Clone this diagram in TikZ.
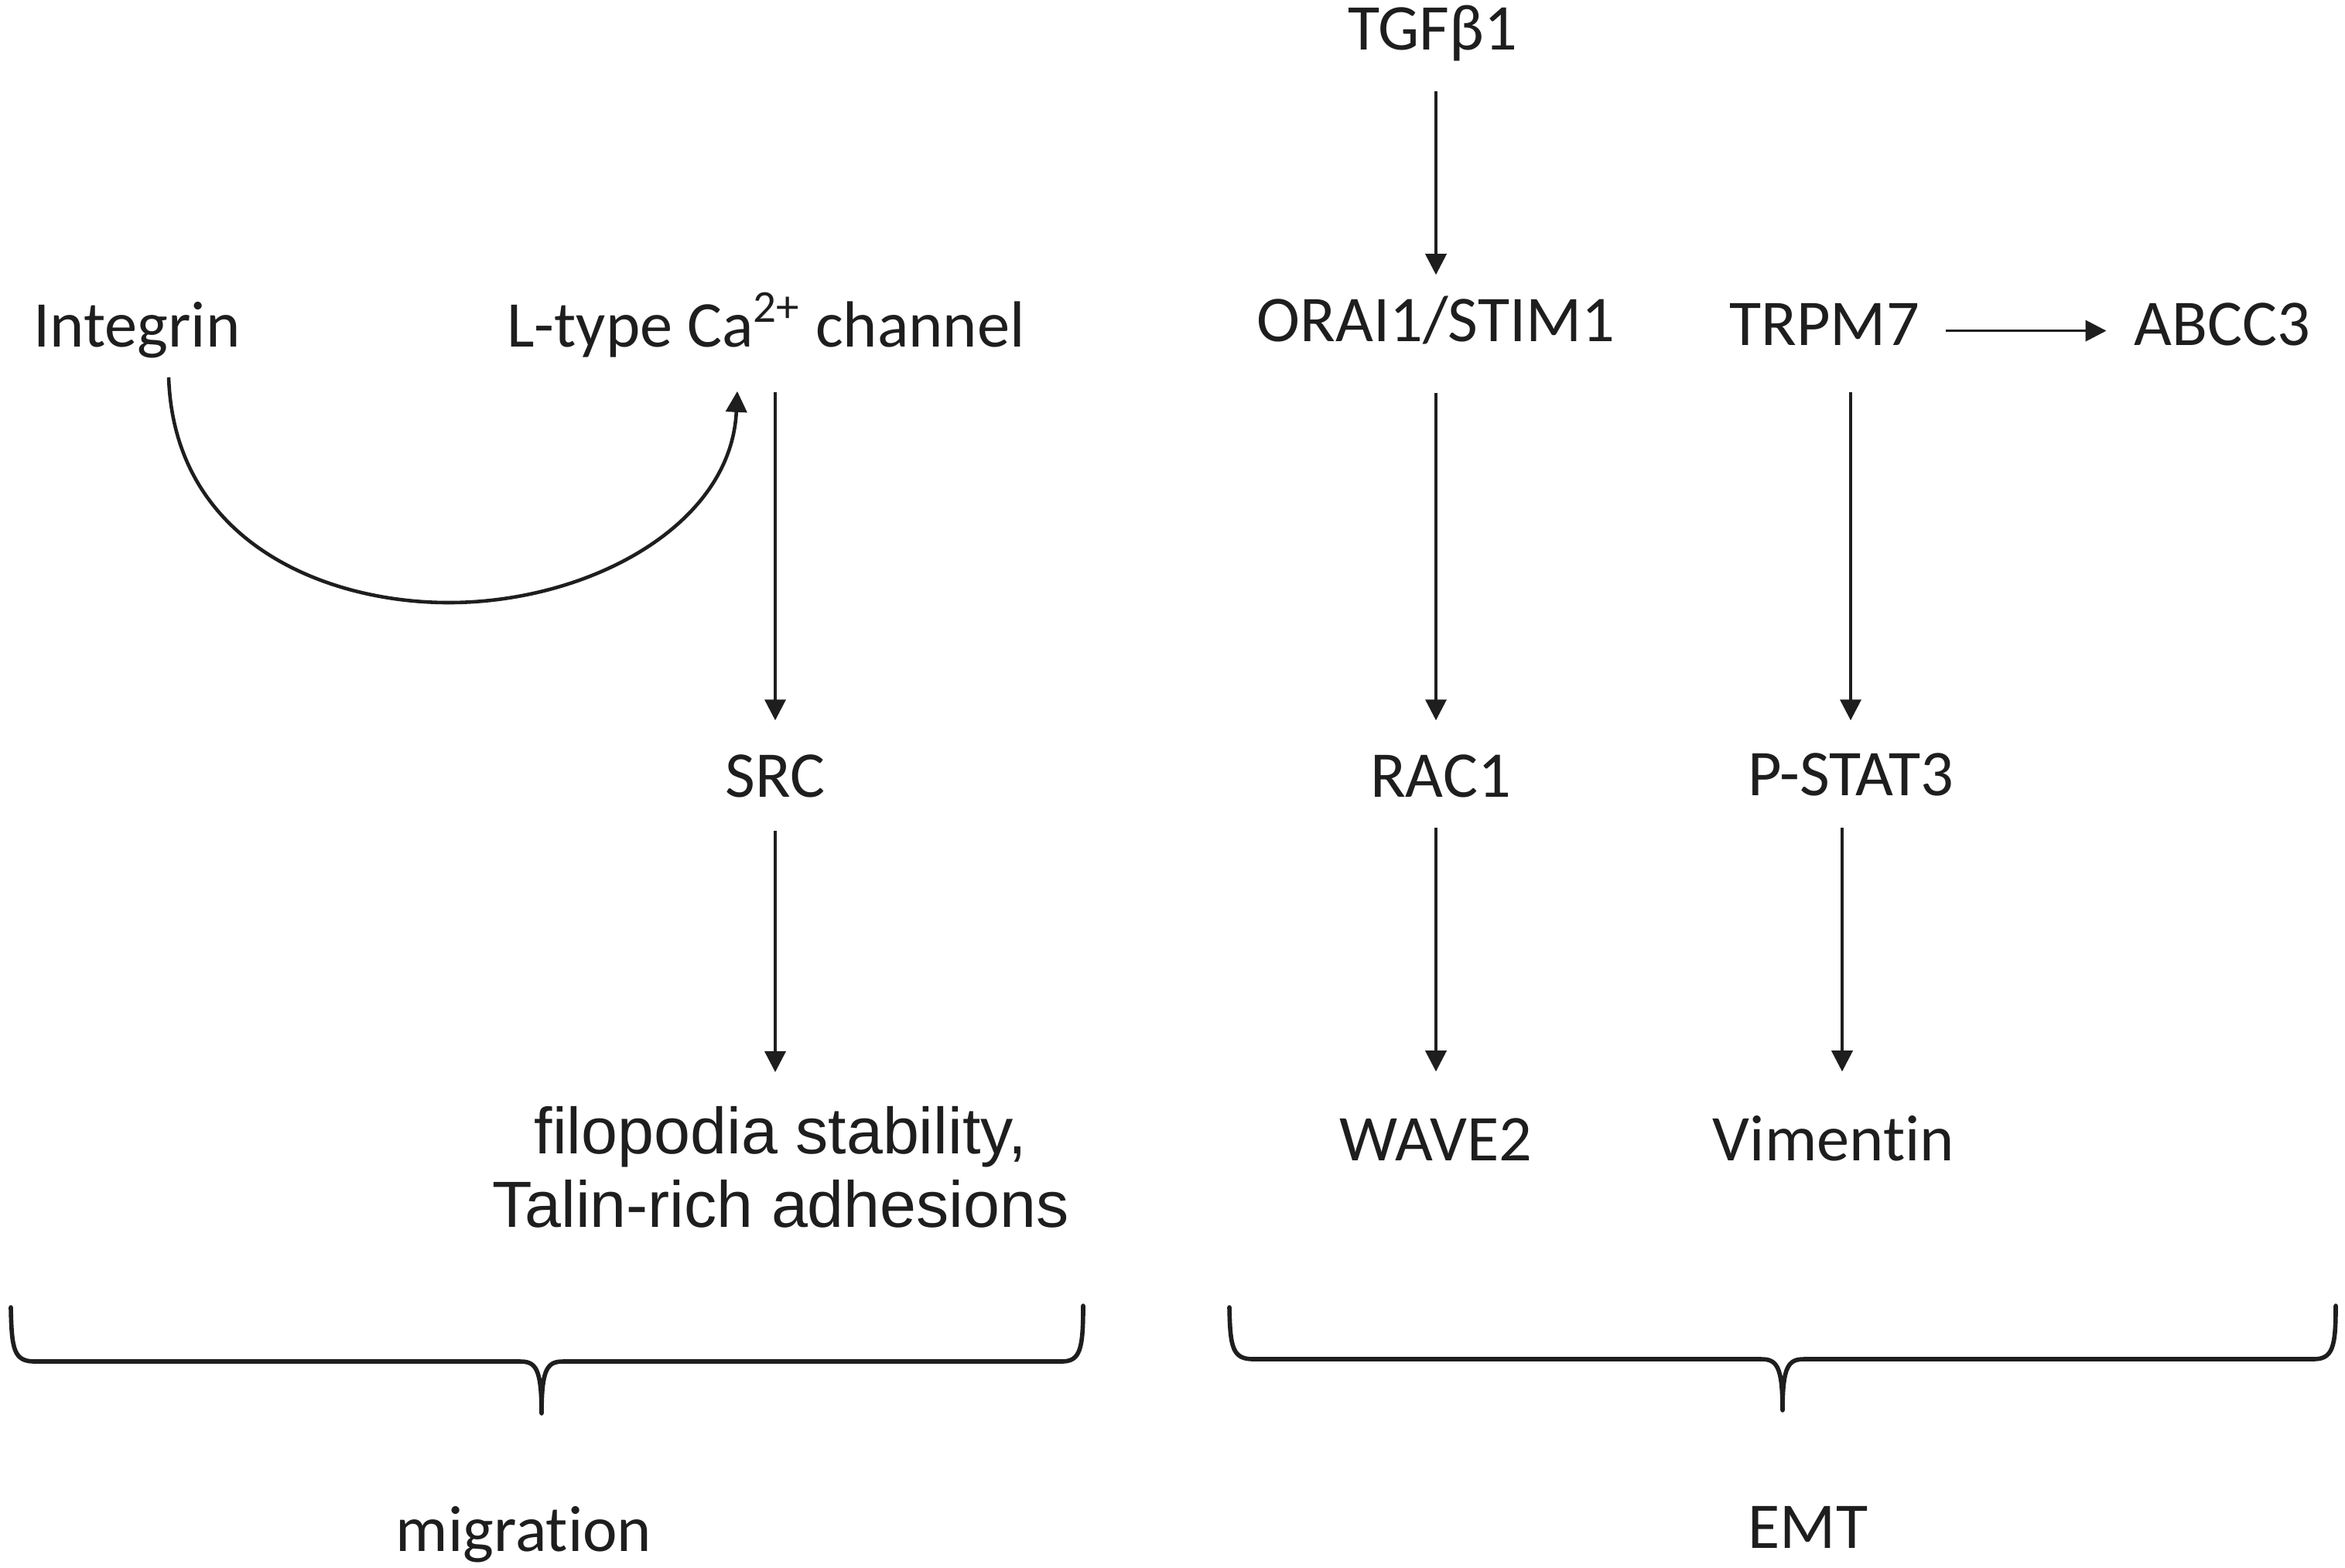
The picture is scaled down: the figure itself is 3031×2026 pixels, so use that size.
\documentclass[tikz,border=0pt]{standalone}
\usepackage{fontspec}
\setmainfont{Carlito}[Ligatures={NoCommon}]
\newfontfamily\arialf{Liberation Sans}[Ligatures={NoCommon}]
\usetikzlibrary{arrows.meta}
\definecolor{ink}{RGB}{30,30,30}
\begin{document}
\begin{tikzpicture}[x=0.01cm,y=-0.01cm,
  lbl/.style={anchor=base,inner sep=0pt,text height=0.54cm,text depth=0.17cm,font=\fontsize{24}{29}\selectfont,text=ink},
  arr/.style={draw=ink,line width=1.05pt,-{Triangle[length=0.27cm,width=0.27cm]}},
  curvearr/.style={draw=ink,line width=1.3pt,-{Triangle[length=0.27cm,width=0.27cm]}},
  bracestyle/.style={draw=ink,line width=1.6pt,line cap=round,line join=round}]
\useasboundingbox (0,0) rectangle (3031,2026);
\fill[white] (0,0) rectangle (3031,2026);

% nodes
\node[lbl] (tgf) at (1852,64) {TGFβ1};
\node[lbl] (integrin) at (177,448) {Integrin};
\node[lbl] (ltype) at (990,448) {L-type Ca\textsuperscript{2+} channel};
\node[lbl] (orai) at (1856,441) {ORAI1/STIM1};
\node[lbl] (trpm) at (2358,446) {TRPM7};
\node[lbl] (abcc) at (2872,446) {ABCC3};
\node[lbl] (src) at (1002,1030) {SRC};
\node[lbl] (rac) at (1862,1030) {RAC1};
\node[lbl] (pstat) at (2392,1028) {P-STAT3};
\node[lbl] (wave) at (1856,1500) {WAVE2};
\node[lbl] (vim) at (2370,1500) {Vimentin};
\node[anchor=north,inner sep=0pt,align=center,font=\arialf\fontsize{24}{27}\selectfont,text=ink] (filo) at (1009,1430) {filopodia stability,\\Talin-rich adhesions};
\node[lbl] (mig) at (677,2005) {migration};
\node[lbl] (emt) at (2337,2001) {EMT};

% connectors
\draw[arr,shorten <=0.36cm,shorten >=0.31cm] (orai.north |- tgf.south) -- (orai.north);
\draw[arr,shorten <=0.41cm,shorten >=0.44cm] (ltype.south -| src.north) -- (src.north);
\draw[arr,shorten <=0.26cm,shorten >=0.44cm] (src.south) -- (src.south |- filo.north);
\draw[arr,shorten <=0.49cm,shorten >=0.44cm] (orai.south) -- (orai.south |- rac.north);
\draw[arr,shorten <=0.22cm,shorten >=0.6cm] (wave.north |- rac.south) -- (wave.north);
\draw[arr,shorten <=0.43cm,shorten >=0.42cm] (trpm.south -| pstat.north) -- (pstat.north);
\draw[arr,shorten <=0.24cm,shorten >=0.6cm] ([xshift=-0.11cm]pstat.south) -- ([xshift=-0.11cm]pstat.south |- vim.north);
\draw[arr,shorten <=0.33cm,shorten >=0.35cm] ([yshift=0.1cm]trpm.mid east) -- ([yshift=0.1cm]trpm.mid east -| abcc.west);

\draw[curvearr] ([xshift=0.41cm,yshift=-0.22cm]integrin.south) .. controls +(7,213) and (420,779) .. (580,779)
  .. controls (760,779) and (945,680) .. ([xshift=-0.37cm,yshift=-0.40cm]ltype.south);

% braces
\draw[bracestyle] (14,1690) .. controls (15,1745) and (18,1760) .. (45,1760) -- (672,1760)
  .. controls (692,1760) and (700,1768) .. (700,1827)
  .. controls (700,1768) and (708,1760) .. (728,1760) -- (1372,1760)
  .. controls (1396,1760) and (1400,1745) .. (1400,1688);
\draw[bracestyle] (1589,1690) .. controls (1590,1742) and (1593,1757) .. (1620,1757) -- (2276,1757)
  .. controls (2296,1757) and (2304,1765) .. (2304,1823)
  .. controls (2304,1765) and (2312,1757) .. (2332,1757) -- (2990,1757)
  .. controls (3015,1757) and (3019,1742) .. (3019,1688);
\end{tikzpicture}
\end{document}
